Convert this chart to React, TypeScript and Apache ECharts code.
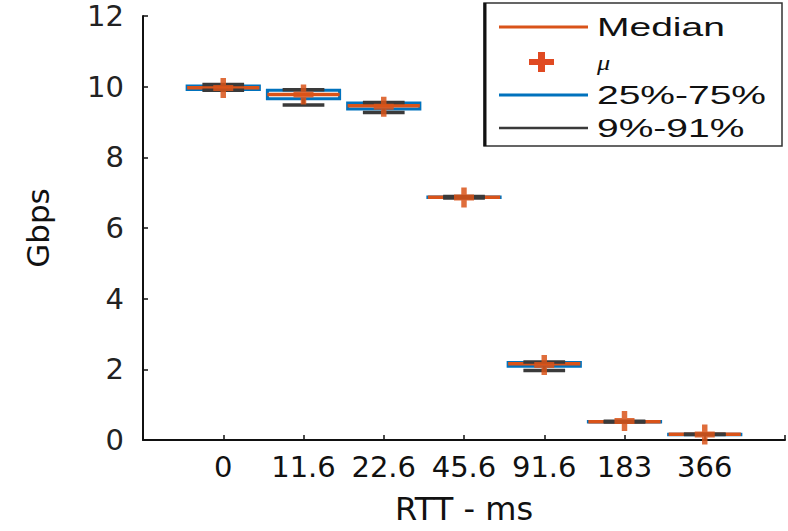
import React, { useEffect, useRef } from "react";
import * as echarts from "echarts";

// Category labels (RTT in ms)
const categories = ["0", "11.6", "22.6", "45.6", "91.6", "183", "366"];
// Box statistics (Gbps): 9% / 25% / median / 75% / 91%
const p09 = [9.9, 9.48, 9.27, 6.85, 1.97, 0.51, 0.155];
const p25 = [9.92, 9.66, 9.37, 6.86, 2.09, 0.515, 0.158];
const median = [9.97, 9.78, 9.46, 6.87, 2.16, 0.52, 0.16];
const p75 = [10.02, 9.9, 9.54, 6.88, 2.19, 0.525, 0.162];
const p91 = [10.06, 9.91, 9.55, 6.89, 2.21, 0.53, 0.165];
// Mean values
const mean = [9.96, 9.78, 9.43, 6.86, 2.12, 0.54, 0.155];
// Y-axis ticks
const yTicks = [0, 2, 4, 6, 8, 10, 12];
// Legend entries
const legendLabels = ["Median", "\u03bc", "25%-75%", "9%-91%"];

const ORANGE = "#D95319";
const BLUE = "#0072BD";
const GREY = "#3a3a3a";
const PLUS_PATH =
  "path://M8,0 L14,0 L14,7 L22,7 L22,13 L14,13 L14,20 L8,20 L8,13 L0,13 L0,7 L8,7 Z";

export default function App() {
  const ref = useRef<HTMLDivElement>(null);

  useEffect(() => {
    if (!ref.current) return;
    const chart = echarts.init(ref.current, undefined, { renderer: "svg" });

    const boxData = categories.map((_, i) => [
      i + 1,
      p09[i],
      p25[i],
      median[i],
      p75[i],
      p91[i],
    ]);
    const meanData = categories.map((_, i) => [i + 1, mean[i]]);

    const legendX = 499;
    const textX = 597;
    const rowsY = [27, 62, 95, 128];

    const option: any = {
      animation: false,
      backgroundColor: "#ffffff",
      grid: { left: 143, right: 0, top: 16, bottom: 91, containLabel: false },
      xAxis: {
        type: "value",
        min: 0,
        max: 8,
        interval: 1,
        name: "RTT - ms",
        nameLocation: "middle",
        nameGap: 53,
        nameTextStyle: {
          fontFamily: "DejaVu Sans",
          fontSize: 32,
          color: "#111",
        },
        axisLine: { show: true, lineStyle: { color: "#111", width: 2 } },
        axisTick: { show: true, inside: true, length: 5, lineStyle: { color: "#111", width: 1.5 } },
        axisLabel: {
          fontFamily: "DejaVu Sans",
          fontSize: 29,
          color: "#111",
          margin: 12,
          formatter: (v: number) =>
            Number.isInteger(v) && v >= 1 && v <= categories.length ? categories[v - 1] : "",
        },
        splitLine: { show: false },
      },
      yAxis: {
        type: "value",
        min: yTicks[0],
        max: yTicks[yTicks.length - 1],
        interval: 2,
        name: "Gbps",
        nameLocation: "middle",
        nameRotate: 90,
        nameGap: 90,
        nameTextStyle: {
          fontFamily: "DejaVu Sans",
          fontSize: 31,
          color: "#111",
        },
        axisLine: { show: true, lineStyle: { color: "#111", width: 2 } },
        axisTick: { show: true, inside: true, length: 5, lineStyle: { color: "#111", width: 1.5 } },
        axisLabel: {
          fontFamily: "DejaVu Sans",
          fontSize: 29,
          color: "#222",
          margin: 19,
        },
        splitLine: { show: false },
      },
      series: [
        {
          type: "custom",
          name: "box",
          data: boxData,
          encode: { x: 0, y: [1, 2, 3, 4, 5] },
          z: 2,
          renderItem: (params: any, api: any) => {
            const x = api.value(0);
            const low = api.coord([x, api.value(1)]);
            const q1 = api.coord([x, api.value(2)]);
            const med = api.coord([x, api.value(3)]);
            const q3 = api.coord([x, api.value(4)]);
            const high = api.coord([x, api.value(5)]);
            const cx = low[0];
            const hw = api.size([0.9, 0])[0] / 2;
            const cw = api.size([0.52, 0])[0] / 2;
            return {
              type: "group",
              children: [
                {
                  type: "rect",
                  shape: { x: cx - hw, y: q3[1], width: 2 * hw, height: Math.max(q1[1] - q3[1], 0.5) },
                  style: { fill: "none", stroke: BLUE, lineWidth: 3 },
                },
                {
                  type: "line",
                  shape: { x1: cx - hw, y1: med[1], x2: cx + hw, y2: med[1] },
                  style: { stroke: ORANGE, lineWidth: 3.5 },
                },
                {
                  type: "line",
                  shape: { x1: cx, y1: q1[1], x2: cx, y2: low[1] },
                  style: { stroke: GREY, lineWidth: 3 },
                },
                {
                  type: "line",
                  shape: { x1: cx, y1: q3[1], x2: cx, y2: high[1] },
                  style: { stroke: GREY, lineWidth: 3 },
                },
                {
                  type: "line",
                  shape: { x1: cx - cw, y1: low[1], x2: cx + cw, y2: low[1] },
                  style: { stroke: GREY, lineWidth: 3.5 },
                },
                {
                  type: "line",
                  shape: { x1: cx - cw, y1: high[1], x2: cx + cw, y2: high[1] },
                  style: { stroke: GREY, lineWidth: 3.5 },
                },
              ],
            };
          },
        },
        {
          type: "scatter",
          name: "mean",
          data: meanData,
          symbol: PLUS_PATH,
          symbolSize: [20, 20],
          z: 3,
          itemStyle: { color: ORANGE, opacity: 0.85 },
        },
      ],
      graphic: [
        {
          type: "rect",
          shape: { x: 484, y: 3, width: 298, height: 143 },
          style: { fill: "#fff", stroke: "#333", lineWidth: 1.5 },
          z: 10,
        },
        {
          type: "line",
          shape: { x1: 485, y1: 3, x2: 485, y2: 146 },
          style: { stroke: "#111", lineWidth: 3 },
          z: 11,
        },
        {
          type: "line",
          shape: { x1: legendX, y1: rowsY[0], x2: 588, y2: rowsY[0] },
          style: { stroke: ORANGE, lineWidth: 3 },
          z: 11,
        },
        {
          type: "polygon",
          shape: {
            points: [
              [538, 52], [545, 52], [545, 59], [554, 59], [554, 65], [545, 65],
              [545, 72], [538, 72], [538, 65], [529, 65], [529, 59], [538, 59],
            ],
          },
          style: { fill: "#E04A22" },
          z: 11,
        },
        {
          type: "line",
          shape: { x1: legendX, y1: rowsY[2], x2: 588, y2: rowsY[2] },
          style: { stroke: BLUE, lineWidth: 3 },
          z: 11,
        },
        {
          type: "line",
          shape: { x1: legendX, y1: rowsY[3], x2: 588, y2: rowsY[3] },
          style: { stroke: GREY, lineWidth: 2.5 },
          z: 11,
        },
        ...legendLabels.map((t, i) => ({
          type: "text",
          x: textX,
          y: rowsY[i],
          scaleX: i === 1 ? 1.2 : 1.5,
          z: 11,
          style: {
            text: t,
            fill: "#111",
            font:
              i === 1
                ? "italic 22px 'Liberation Serif', serif"
                : "26px 'Liberation Sans', Arial, sans-serif",
            textAlign: "left",
            textVerticalAlign: "middle",
          },
        })),
      ],
    };

    chart.setOption(option);
    return () => chart.dispose();
  }, []);

  return (
    <div
      ref={ref}
      style={{ position: "fixed", left: 0, top: 0, width: 788, height: 531 }}
    />
  );
}
